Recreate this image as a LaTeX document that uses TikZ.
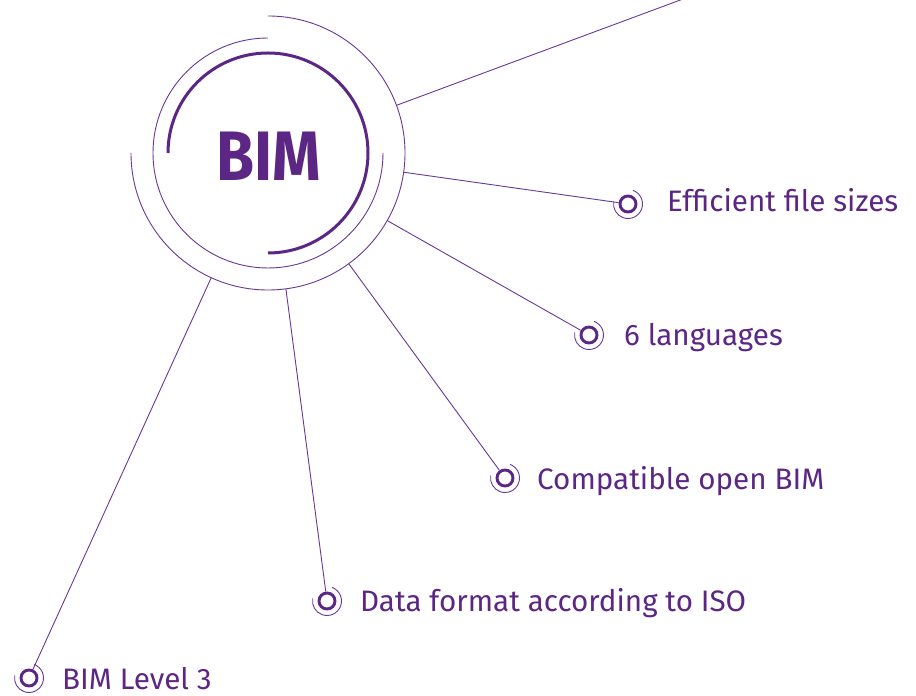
\documentclass[tikz,border=0pt]{standalone}
\usepackage{fontspec}
\setmainfont{Fira Sans}
\definecolor{bimpurple}{RGB}{92,38,132}
\definecolor{linepurple}{RGB}{105,55,150}
\tikzset{
  x=1pt, y=1pt,
  thinline/.style={draw=linepurple, line width=0.9pt},
  marker/.style={circle, draw=bimpurple, line width=2.9pt, minimum size=16pt, inner sep=0pt},
  label/.style={anchor=base west, inner sep=0pt, text=bimpurple, font=\fontsize{29.6}{34}\selectfont},
}
\begin{document}
\begin{tikzpicture}
\useasboundingbox (0,0) rectangle (916,696);
\clip (0,0) rectangle (916,696);
% central circles
\node[circle, minimum size=274pt, inner sep=0pt] (c) at (268,543) {};
\draw[thinline] (c.center) ++(90:137) arc[start angle=90, end angle=-180, radius=137];
\draw[thinline] (c.center) ++(90:115) arc[start angle=90, end angle=360, radius=115];
\draw[draw=bimpurple, line width=3pt] (c.center) ++(180:100) arc[start angle=180, end angle=-90, radius=100];
\node[text=bimpurple, inner sep=0pt, font=\bfseries\fontsize{70}{80}\selectfont] (b) at (269,540) {\scalebox{0.88}[1]{BIM}};
% markers
\node[marker] (m1) at (628,492) {};
\node[marker] (m2) at (589,361) {};
\node[marker] (m3) at (505,218) {};
\node[marker] (m4) at (327,95) {};
\node[marker] (m5) at (29,18) {};
\foreach \m in {m1,m2,m3,m4,m5}{
  \draw[thinline] (\m.center) ++(70:14.5) arc[start angle=70, end angle=-190, radius=14.5];
}
\coordinate (e1) at (710,707);
% connectors
\draw[thinline] (c) -- (e1);
\foreach \m in {m1,m2,m3,m4,m5}{
  \draw[thinline] (c) -- (\m);
}
% labels
\node[label] (t1) at (667,484) {Efficient file sizes};
\node[label] (t2) at (624,350) {6 languages};
\node[label] (t3) at (537,206) {Compatible open BIM};
\node[label] (t4) at (360,84) {Data format according to ISO};
\node[label] (t5) at (62,6) {BIM Level 3};
\end{tikzpicture}
\end{document}
